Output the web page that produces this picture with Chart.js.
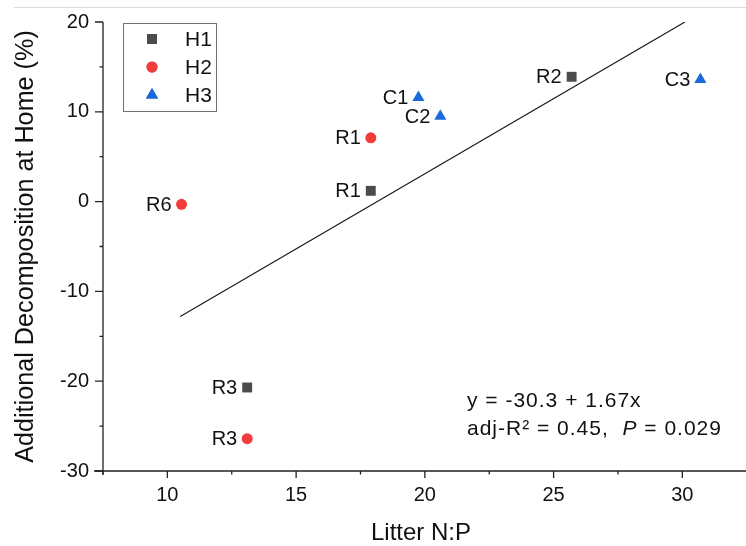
<!DOCTYPE html>
<html>
<head>
<meta charset="utf-8">
<script src="https://cdn.jsdelivr.net/npm/chart.js@4.4.1/dist/chart.umd.min.js"></script>
<style>
  html, body { margin: 0; padding: 0; background: #fff; }
  #wrap { position: relative; width: 746px; height: 546px; }
  #topline { position: absolute; left: 14px; right: 0; top: 7px; height: 1px; background: #d3dbe3; }
  canvas { position: absolute; left: 0; top: 0; }
</style>
</head>
<body>
<div id="wrap">
  <div id="topline"></div>
  <canvas id="chart" width="746" height="546"></canvas>
</div>
<script>
// valores
const h1X = [17.9, 25.7, 13.1];
const h1Y = [1.2, 13.9, -20.7];
const h1Labels = ["R1", "R2", "R3"];

const h2X = [17.9, 10.55, 13.1];
const h2Y = [7.1, -0.3, -26.4];
const h2Labels = ["R1", "R6", "R3"];

const h3X = [19.75, 20.6, 30.7];
const h3Y = [11.6, 9.5, 13.6];
const h3Labels = ["C1", "C2", "C3"];

// recta de ajuste y = -30.3 + 1.67x (extremos leídos)
const fitX = [10.5, 30.1];
const fitY = [-12.8, 20.0];

const xTicks = [10, 15, 20, 25, 30];
const yTicks = [-30, -20, -10, 0, 10, 20];

const X_MIN = 7.5, X_MAX = 32.2;
const fontName = "'Liberation Sans', Arial, sans-serif";

function toPoints(xs, ys) {
  return xs.map((x, i) => ({ x: x, y: ys[i] }));
}

const series = [
  { label: "H1", x: h1X, y: h1Y, names: h1Labels, color: "#4b4b4b", style: "rect", r: 7 },
  { label: "H2", x: h2X, y: h2Y, names: h2Labels, color: "#f23c3c", style: "circle", r: 5.5 },
  { label: "H3", x: h3X, y: h3Y, names: h3Labels, color: "#1a6ad8", style: "triangle", r: 7 },
];

const datasets = series.map((s) => ({
  type: "scatter",
  label: s.label,
  data: toPoints(s.x, s.y),
  pointStyle: s.style,
  pointRadius: s.r,
  pointHoverRadius: s.r,
  backgroundColor: s.color,
  borderColor: s.color,
  borderWidth: 0,
  names: s.names,
}));

datasets.unshift({
  type: "line",
  label: "fit",
  data: toPoints(fitX, fitY),
  borderColor: "#1a1a1a",
  borderWidth: 1.2,
  pointRadius: 0,
  fill: false,
});

// ejes, marcas, etiquetas de puntos, leyenda y ecuación
const extras = {
  id: "extras",
  afterDatasetsDraw(chart) {
    const ctx = chart.ctx;
    const area = chart.chartArea;
    const xs = chart.scales.x;
    const ys = chart.scales.y;

    ctx.save();
    ctx.strokeStyle = "#222";
    ctx.lineWidth = 1.3;
    ctx.beginPath();
    ctx.moveTo(area.left - 9, area.bottom);
    ctx.lineTo(chart.width, area.bottom);
    ctx.moveTo(area.left, area.top);
    ctx.lineTo(area.left, area.bottom + 4);
    ctx.stroke();

    ctx.beginPath();
    xs.ticks.forEach((t) => {
      const v = t.value;
      if (Math.abs(v / 2.5 - Math.round(v / 2.5)) > 1e-6) return;
      const px = xs.getPixelForValue(v);
      const len = v % 5 === 0 ? 7 : 3.5;
      ctx.moveTo(px, area.bottom);
      ctx.lineTo(px, area.bottom + len);
    });
    ys.ticks.forEach((t) => {
      const v = t.value;
      const py = ys.getPixelForValue(v);
      const len = v % 10 === 0 ? 8 : 3.5;
      ctx.moveTo(area.left, py);
      ctx.lineTo(area.left - len, py);
    });
    ctx.stroke();

    // etiquetas junto a cada punto
    ctx.fillStyle = "#111";
    ctx.font = "20px " + fontName;
    ctx.textAlign = "right";
    ctx.textBaseline = "middle";
    chart.data.datasets.forEach((ds, i) => {
      if (!ds.names) return;
      const meta = chart.getDatasetMeta(i);
      meta.data.forEach((pt, j) => {
        ctx.fillText(ds.names[j], pt.x - 10, pt.y + 1);
      });
    });

    // leyenda
    const lx = 123, ly = 23, lw = 93, lh = 88;
    ctx.fillStyle = "#fff";
    ctx.fillRect(lx, ly, lw, lh);
    ctx.strokeStyle = "#707070";
    ctx.lineWidth = 1;
    ctx.strokeRect(lx + 0.5, ly + 0.5, lw, lh);
    series.forEach((s, i) => {
      const cy = ly + 16 + i * 28;
      ctx.fillStyle = s.color;
      ctx.beginPath();
      Chart.helpers.drawPoint(ctx, { pointStyle: s.style, radius: s.r, rotation: 0, borderWidth: 0 }, lx + 29, cy);
      ctx.fill();
      ctx.fillStyle = "#111";
      ctx.textAlign = "left";
      ctx.font = "21px " + fontName;
      ctx.fillText(s.label, lx + 62, cy + 1);
    });

    // ecuación
    const ex = area.left + 364;
    ctx.textAlign = "left";
    ctx.fillStyle = "#111";
    ctx.letterSpacing = "1px";
    ctx.font = "21px " + fontName;
    ctx.fillText("y = -30.3 + 1.67x", ex, 401);
    const t1 = "adj-R\u00B2 = 0.45,  ";
    ctx.fillText(t1, ex, 429);
    let w = ctx.measureText(t1).width;
    ctx.font = "italic 21px " + fontName;
    ctx.fillText("P", ex + w, 429);
    w += ctx.measureText("P").width;
    ctx.font = "21px " + fontName;
    ctx.fillText(" = 0.029", ex + w, 429);
    ctx.restore();
  },
};

function noPad(scale) {
  scale.paddingLeft = 0;
  scale.paddingRight = 0;
  scale.paddingTop = 0;
  scale.paddingBottom = 0;
}

new Chart(document.getElementById("chart").getContext("2d"), {
  data: { datasets: datasets },
  options: {
    responsive: false,
    animation: false,
    events: [],
    layout: { padding: { left: 0, top: 22, right: 0, bottom: 0 } },
    plugins: { legend: { display: false }, tooltip: { enabled: false } },
    scales: {
      x: {
        type: "linear",
        min: X_MIN,
        max: X_MAX,
        afterBuildTicks: (scale) => {
          scale.ticks = scale.ticks.filter((t) => t.value >= X_MIN && t.value <= X_MAX);
          scale.min = X_MIN;
          scale.max = X_MAX;
        },
        afterFit: (scale) => { scale.height = 75; noPad(scale); },
        grid: { display: false, drawTicks: true, tickLength: 7 },
        border: { display: false },
        ticks: {
          stepSize: 2.5,
          includeBounds: false,
          padding: 5,
          color: "#111",
          font: { family: fontName, size: 20 },
          callback: (v) => (xTicks.includes(v) ? String(v) : ""),
        },
        title: {
          display: true,
          text: "Litter N:P",
          color: "#111",
          font: { family: fontName, size: 24, lineHeight: 1 },
          padding: { top: 0, bottom: 1 },
        },
      },
      y: {
        type: "linear",
        min: -30,
        max: 20,
        afterFit: (scale) => { scale.width = 103; noPad(scale); },
        grid: { display: false, drawTicks: true, tickLength: 8 },
        border: { display: false },
        ticks: {
          stepSize: 5,
          padding: 6,
          color: "#111",
          font: { family: fontName, size: 20 },
          callback: (v) => (yTicks.includes(v) ? String(v) : ""),
        },
        title: {
          display: true,
          text: "Additional Decomposition at Home (%)",
          color: "#111",
          font: { family: fontName, size: 25.2, lineHeight: 1 },
          padding: { top: 13, bottom: 0 },
        },
      },
    },
  },
  plugins: [extras],
});
</script>
</body>
</html>
